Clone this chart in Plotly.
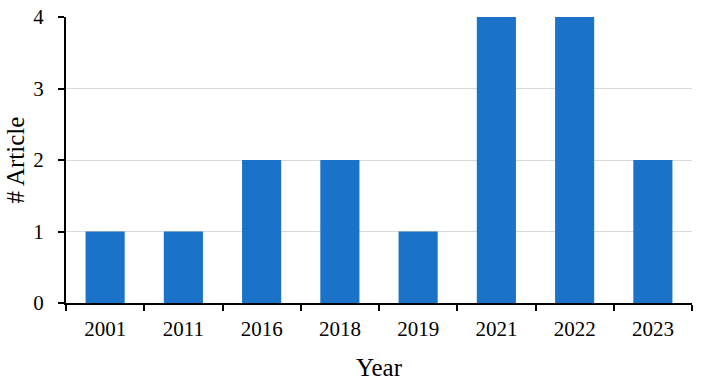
import plotly.graph_objects as go

years = ["2001", "2011", "2016", "2018", "2019", "2021", "2022", "2023"]
articles = [1, 1, 2, 2, 1, 4, 4, 2]
y_ticks = [0, 1, 2, 3, 4]

font_family = "Liberation Serif, Times New Roman, serif"

fig = go.Figure(
    go.Bar(x=years, y=articles, marker=dict(color="#1a73c9", line=dict(width=0)))
)
fig.update_layout(
    width=705,
    height=386,
    margin=dict(l=66, r=13, t=17, b=83),
    plot_bgcolor="white",
    paper_bgcolor="white",
    bargap=0.5,
    font=dict(family=font_family, size=21, color="black"),
    showlegend=False,
)
fig.update_xaxes(
    type="category",
    automargin=False,
    showline=True,
    linecolor="black",
    linewidth=2,
    ticks="outside",
    tickson="boundaries",
    ticklen=6,
    tickwidth=2,
    tickcolor="black",
    ticklabelstandoff=6,
    showgrid=False,
    title=dict(text="Year", standoff=18),
)
fig.update_yaxes(
    range=[0, 4],
    tickvals=y_ticks,
    automargin=False,
    showline=True,
    linecolor="black",
    linewidth=2,
    ticks="outside",
    ticklen=6,
    tickwidth=2,
    tickcolor="black",
    ticklabelstandoff=10,
    ticklabeloverflow="allow",
    showgrid=True,
    gridcolor="#d9d9d9",
    gridwidth=1,
    zeroline=False,
    title=dict(text="# Article", standoff=2),
)
fig.write_html(
    "out.html",
    config={"displayModeBar": False},
    post_script="document.body.style.margin='0';document.body.style.overflow='hidden';",
)
